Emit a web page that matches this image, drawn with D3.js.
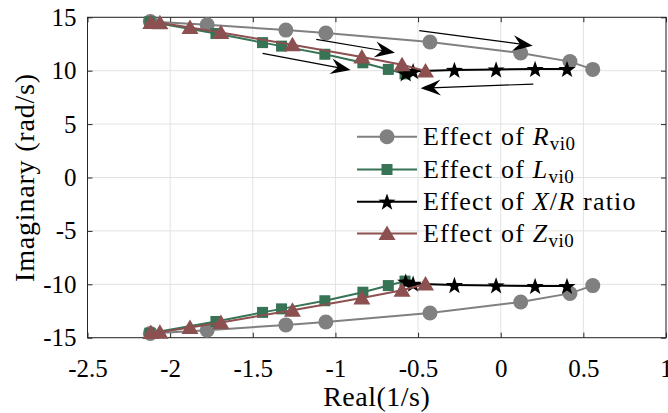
<!DOCTYPE html>
<html><head><meta charset="utf-8">
<script src="https://cdn.jsdelivr.net/npm/d3@7"></script>
<style>
body{margin:0;background:#fff}
svg{display:block}
text{font-family:"Liberation Serif","Times New Roman",serif;fill:#000}
</style>
</head><body>
<svg id="c" width="668" height="413"></svg>
<script>
// ---- data ----
const xTicks = [-2.5, -2, -1.5, -1, -0.5, 0, 0.5, 1];
const xTickLabels = ["-2.5", "-2", "-1.5", "-1", "-0.5", "0", "0.5", "1"];
const yTicks = [-15, -10, -5, 0, 5, 10, 15];
const yTickLabels = ["-15", "-10", "-5", "0", "5", "10", "15"];

// Effect of R_vi0 (upper branch; lower branch is conjugate)
const rReal = [-2.12, -1.776, -1.30, -1.058, -0.428, 0.121, 0.419, 0.557];
const rImag = [14.6, 14.30, 13.80, 13.53, 12.69, 11.66, 10.85, 10.12];
// Effect of L_vi0
const lReal = [-2.123, -1.723, -1.441, -1.326, -1.064, -0.834, -0.680, -0.579];
const lImag = [14.58, 13.48, 12.63, 12.30, 11.54, 10.74, 10.12, 9.70];
// Effect of X/R ratio
const xrReal = [-0.575, -0.53, -0.28, -0.028, 0.208, 0.401];
const xrImag = [9.75, 9.95, 10.07, 10.11, 10.16, 10.16];
// Effect of Z_vi0
const zReal = [-2.117, -2.062, -1.880, -1.693, -1.260, -0.840, -0.597, -0.455];
const zImag = [14.52, 14.48, 14.05, 13.57, 12.42, 11.29, 10.56, 9.98];

// annotation arrows (data coordinates): start -> end
const arrowX0 = [-1.116, -1.441, -0.493, 0.197];
const arrowY0 = [12.94, 11.63, 13.75, 8.75];
const arrowX1 = [-0.640, -0.908, 0.194, -0.484];
const arrowY1 = [11.69, 10.07, 12.34, 8.35];

const seriesKeys = ["R", "L", "XR", "Z"];
const seriesColors = ["#808080", "#377355", "#000000", "#8c5050"];
const seriesMarkers = ["circle", "square", "star", "triangle"];

// ---- chart ----
const FONT = '"Liberation Serif","Times New Roman",serif';
const svg = d3.select("#c");
const x = d3.scaleLinear().domain([-2.5, 1]).range([87.5, 666]);
const y = d3.scaleLinear().domain([-15, 15]).range([337.7, 17.3]);
const axisColor = "#262626";

// grid
const grid = svg.append("g");
grid.selectAll("line.vx").data(xTicks).join("line")
  .attr("x1", d => x(d)).attr("x2", d => x(d))
  .attr("y1", y(15)).attr("y2", y(-15))
  .attr("stroke", "#e2e2e2").attr("stroke-width", 1);
grid.selectAll("line.hy").data(yTicks).join("line")
  .attr("y1", d => y(d)).attr("y2", d => y(d))
  .attr("x1", x(-2.5)).attr("x2", x(1))
  .attr("stroke", "#e2e2e2").attr("stroke-width", 1);

// axes
function styleAxis(g) {
  g.attr("font-family", FONT).attr("font-size", 25);
  g.select(".domain").remove();
  g.selectAll(".tick line").attr("stroke", axisColor);
  g.selectAll(".tick text").attr("fill", "#000").style("font-size", "25px")
    .style("font-family", FONT);
}
svg.append("g").attr("transform", `translate(0,${y(-15)})`)
  .call(d3.axisBottom(x).tickValues(xTicks).tickFormat((d, i) => xTickLabels[i])
    .tickSizeInner(-5).tickSizeOuter(0).tickPadding(22))
  .call(styleAxis);
svg.append("g").attr("transform", `translate(0,${y(15)})`)
  .call(d3.axisTop(x).tickValues(xTicks).tickFormat("")
    .tickSizeInner(-5).tickSizeOuter(0))
  .call(styleAxis);
svg.append("g").attr("transform", `translate(${x(-2.5)},0)`)
  .call(d3.axisLeft(y).tickValues(yTicks).tickFormat((d, i) => yTickLabels[i])
    .tickSizeInner(-5).tickSizeOuter(0).tickPadding(11))
  .call(styleAxis);
svg.append("g").attr("transform", `translate(${x(1)},0)`)
  .call(d3.axisRight(y).tickValues(yTicks).tickFormat("")
    .tickSizeInner(-5).tickSizeOuter(0))
  .call(styleAxis);

svg.append("rect")
  .attr("x", x(-2.5)).attr("y", y(15))
  .attr("width", x(1) - x(-2.5)).attr("height", y(-15) - y(15))
  .attr("fill", "none").attr("stroke", axisColor).attr("stroke-width", 1);

// markers
function starPath(ro, ri) {
  const pts = [];
  for (let k = 0; k < 10; k++) {
    const r = k % 2 === 0 ? ro : ri;
    const a = -Math.PI / 2 + k * Math.PI / 5;
    pts.push([r * Math.cos(a), r * Math.sin(a)]);
  }
  return "M" + pts.map(p => p[0].toFixed(2) + "," + p[1].toFixed(2)).join("L") + "Z";
}
function drawMarker(g, type, cx, cy, color) {
  if (type === "circle") {
    g.append("circle").attr("cx", cx).attr("cy", cy).attr("r", 7.5).attr("fill", color);
  } else if (type === "square") {
    g.append("rect").attr("x", cx - 5.5).attr("y", cy - 5.5).attr("width", 11).attr("height", 11).attr("fill", color);
  } else if (type === "triangle") {
    g.append("path").attr("d", `M${cx},${cy - 8}L${cx + 8.5},${cy + 6.5}L${cx - 8.5},${cy + 6.5}Z`).attr("fill", color);
  } else if (type === "star") {
    g.append("path").attr("d", starPath(9, 3.6)).attr("transform", `translate(${cx},${cy + 0.8})`).attr("fill", color);
  }
}

const seriesData = {
  R: [rReal, rImag], L: [lReal, lImag], XR: [xrReal, xrImag], Z: [zReal, zImag]
};
const line = d3.line().x(d => x(d[0])).y(d => y(d[1]));
seriesKeys.forEach((k, si) => {
  const [re, im] = seriesData[k];
  const g = svg.append("g");
  [1, -1].forEach(sign => {
    const pts = re.map((v, i) => [v, sign * im[i]]);
    g.append("path").datum(pts).attr("d", line)
      .attr("fill", "none").attr("stroke", seriesColors[si]).attr("stroke-width", 2);
    pts.forEach(p => drawMarker(g, seriesMarkers[si], x(p[0]), y(p[1]), seriesColors[si]));
  });
});

// arrows
const ag = svg.append("g");
arrowX0.forEach((_, i) => {
  const x0 = x(arrowX0[i]), y0 = y(arrowY0[i]), x1 = x(arrowX1[i]), y1 = y(arrowY1[i]);
  const a = Math.atan2(y1 - y0, x1 - x0);
  ag.append("line").attr("x1", x0).attr("y1", y0)
    .attr("x2", x1 - 10 * Math.cos(a)).attr("y2", y1 - 10 * Math.sin(a))
    .attr("stroke", "#000").attr("stroke-width", 1.2);
  ag.append("path").attr("d", "M0,0C-6,-2.5 -14,-5.5 -20,-8L-13,0L-20,8C-14,5.5 -6,2.5 0,0Z")
    .attr("transform", `translate(${x1},${y1}) rotate(${a * 180 / Math.PI})`).attr("fill", "#000");
});

// legend
const legY = [136.7, 169.5, 201.7, 233.5];
const lg = svg.append("g");
seriesKeys.forEach((k, i) => {
  lg.append("line").attr("x1", 357).attr("x2", 417).attr("y1", legY[i]).attr("y2", legY[i])
    .attr("stroke", seriesColors[i]).attr("stroke-width", 2);
  drawMarker(lg, seriesMarkers[i], 387, legY[i], seriesColors[i]);
});
function legText(i) {
  return lg.append("text").attr("x", 423).attr("y", legY[i] + 8.5)
    .style("font-size", "26px").style("letter-spacing", "1.2px");
}
let t = legText(0); t.append("tspan").text("Effect of ");
t.append("tspan").style("font-style", "italic").text("R");
t.append("tspan").attr("dy", 5).style("font-size", "19px").style("letter-spacing", "0.5px").text("vi0");
t = legText(1); t.append("tspan").text("Effect of ");
t.append("tspan").style("font-style", "italic").text("L");
t.append("tspan").attr("dy", 5).style("font-size", "19px").style("letter-spacing", "0.5px").text("vi0");
t = legText(2); t.append("tspan").text("Effect of ");
t.append("tspan").style("font-style", "italic").text("X");
t.append("tspan").text("/");
t.append("tspan").style("font-style", "italic").text("R");
t.append("tspan").text(" ratio");
t = legText(3); t.append("tspan").text("Effect of ");
t.append("tspan").style("font-style", "italic").text("Z");
t.append("tspan").attr("dy", 5).style("font-size", "19px").style("letter-spacing", "0.5px").text("vi0");

// axis labels
svg.append("text").attr("x", x(-0.75)).attr("y", 406).attr("text-anchor", "middle")
  .style("font-size", "28px").style("letter-spacing", "0.5px").text("Real(1/s)");
svg.append("text").attr("transform", `translate(34,${y(0)}) rotate(-90)`).attr("text-anchor", "middle")
  .style("font-size", "28px").style("letter-spacing", "0.8px").text("Imaginary (rad/s)");
</script>
</body></html>
